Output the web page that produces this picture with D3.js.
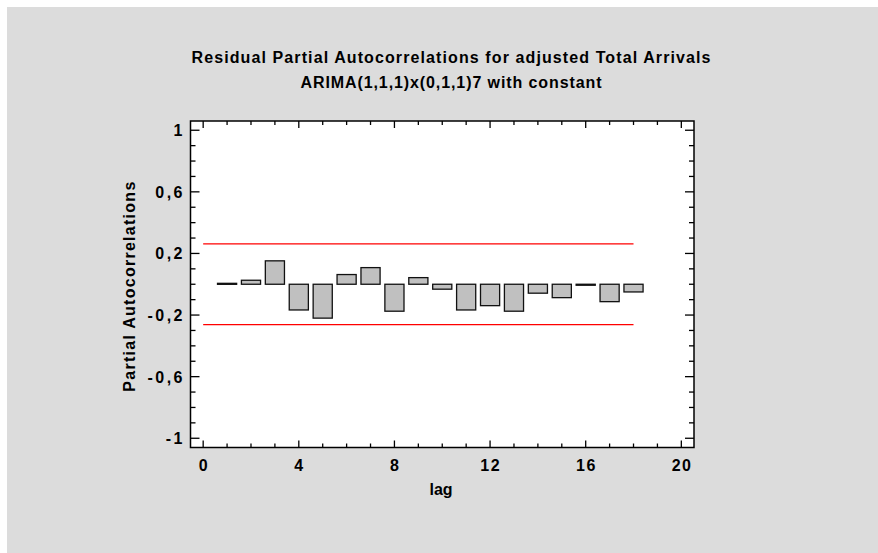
<!DOCTYPE html>
<html><head><meta charset="utf-8">
<script src="https://cdn.jsdelivr.net/npm/d3@7"></script>
<style>html,body{margin:0;padding:0;background:#fff;}svg{display:block;}</style>
</head><body>
<svg id="chart" width="878" height="553"></svg>
<script>
const lags = [1,2,3,4,5,6,7,8,9,10,11,12,13,14,15,16,17,18];
const pacf = [0.006,0.026,0.152,-0.167,-0.220,0.063,0.108,-0.175,0.043,-0.032,-0.167,-0.139,-0.175,-0.058,-0.087,-0.006,-0.113,-0.050];
const limitUpper = 0.262;
const limitLower = -0.262;
const limitRange = [0, 18];
const xTicks = [0,4,8,12,16,20];
const yTicks = [-1,-0.6,-0.2,0.2,0.6,1];
const titleLines = ["Residual Partial Autocorrelations for adjusted Total Arrivals","ARIMA(1,1,1)x(0,1,1)7 with constant"];

const svg = d3.select("#chart");
const F = "'Liberation Sans', Arial, Helvetica, sans-serif";
svg.append("rect").attr("x",7).attr("y",7).attr("width",871).attr("height",546).attr("fill","#dcdcdc");

const L=190.5, R=694, T=121, B=447.5;
const x = d3.scaleLinear().domain([-0.53,20.53]).range([L,R]);
const y = d3.scaleLinear().domain([-1.06,1.06]).range([B,T]);

svg.append("rect").attr("x",L).attr("y",T).attr("width",R-L).attr("height",B-T).attr("fill","#fff");

// titles
const tw = [519, 301];
titleLines.forEach((t,i)=>{
  svg.append("text").attr("x",451).attr("y",[63,88][i]).attr("text-anchor","middle")
    .attr("font-family",F).attr("font-weight","bold").attr("font-size",16)
    .attr("textLength",tw[i]).attr("lengthAdjust","spacing").text(t);
});

// limits
[limitUpper,limitLower].forEach(v=>{
  svg.append("line").attr("x1",x(limitRange[0])).attr("x2",x(limitRange[1]))
    .attr("y1",y(v)).attr("y2",y(v)).attr("stroke","#ff0000").attr("stroke-width",1.2);
});

// bars
const bw = x(0.8)-x(0);
svg.selectAll("rect.bar").data(lags).enter().append("rect").attr("class","bar")
  .attr("x",(d)=>x(d)-bw/2).attr("width",bw)
  .attr("y",(d,i)=>y(Math.max(0,pacf[i])))
  .attr("height",(d,i)=>Math.max(1,Math.abs(y(pacf[i])-y(0))))
  .attr("fill","#c0c0c0").attr("stroke","#111").attr("stroke-width",1.3);

// axes with inward ticks
const minorX = d3.range(0,21,1);
const minorY = d3.range(-10,11,1).map(v=>v/10);
const g = svg.append("g").attr("stroke","#000").attr("stroke-width",1.3);
minorX.forEach(v=>{
  const major = v%4===0;
  const len = major?7:4;
  g.append("line").attr("x1",x(v)).attr("x2",x(v)).attr("y1",B).attr("y2",B-len);
  g.append("line").attr("x1",x(v)).attr("x2",x(v)).attr("y1",T).attr("y2",T+len);
});
minorY.forEach(v=>{
  const major = yTicks.some(t=>Math.abs(t-v)<1e-6);
  const len = major?9:5;
  g.append("line").attr("y1",y(v)).attr("y2",y(v)).attr("x1",L).attr("x2",L+len);
  g.append("line").attr("y1",y(v)).attr("y2",y(v)).attr("x1",R).attr("x2",R-len);
});
svg.append("rect").attr("x",L).attr("y",T).attr("width",R-L).attr("height",B-T)
  .attr("fill","none").attr("stroke","#000").attr("stroke-width",1.5);

// tick labels
svg.append("g").selectAll("text").data(xTicks).enter().append("text")
  .attr("x",d=>x(d)+0.8).attr("y",471).attr("text-anchor","middle").attr("letter-spacing",1.6)
  .attr("font-family",F).attr("font-weight","bold").attr("font-size",16).text(d=>d);
const fmt = d => String(d).replace(".",",");
svg.append("g").selectAll("text").data(yTicks).enter().append("text")
  .attr("x",185).attr("y",d=>y(d)+6).attr("text-anchor","end").attr("letter-spacing",2.5)
  .attr("font-family",F).attr("font-weight","bold").attr("font-size",16).text(fmt);

// axis titles
svg.append("text").attr("x",441).attr("y",495).attr("text-anchor","middle")
  .attr("font-family",F).attr("font-weight","bold").attr("font-size",16).text("lag");
svg.append("text").attr("transform","translate(135,286.7) rotate(-90)").attr("text-anchor","middle")
  .attr("font-family",F).attr("font-weight","bold").attr("font-size",16)
  .attr("textLength",210).attr("lengthAdjust","spacing").text("Partial Autocorrelations");
</script>
</body></html>
